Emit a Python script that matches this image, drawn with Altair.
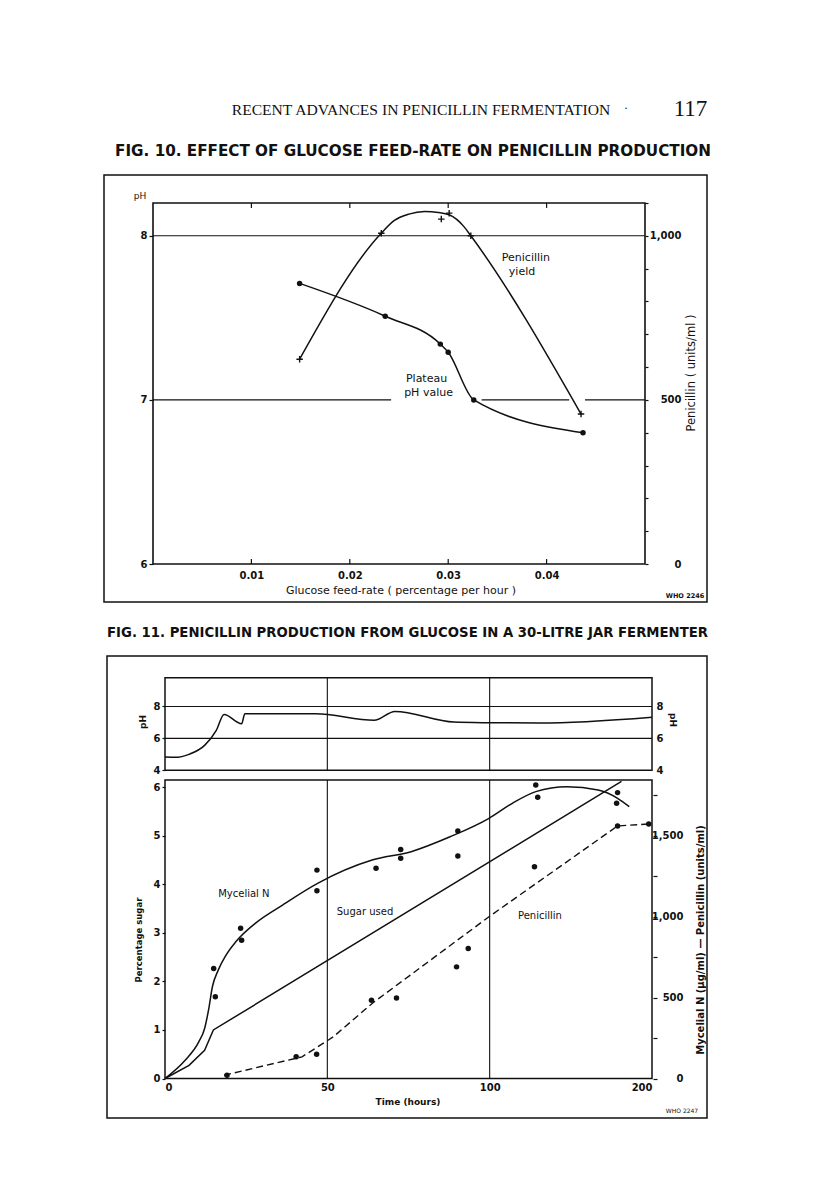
import altair as alt
import pandas as pd

OX, OY = 8, 8
W, H = 800, 1185
SANS = "DejaVu Sans"
SERIF = "Liberation Serif"
INK = "#111111"

# ---------------- Fig. 10 data ----------------
f10_ph_rate = [0.0149, 0.0236, 0.0292, 0.0300, 0.0326, 0.0437]
f10_ph = [7.71, 7.51, 7.34, 7.29, 7.00, 6.80]
f10_pen_rate = [0.0149, 0.0232, 0.0293, 0.0301, 0.0323, 0.0435]
f10_pen = [624, 1008, 1051, 1069, 1000, 457]
f10_curve_rate = [0.0149, 0.0232, 0.0245, 0.0260, 0.0276, 0.0290, 0.0301, 0.0316, 0.0323, 0.0435]
f10_curve_pen = [624, 1008, 1046, 1066, 1074, 1071, 1064, 1028, 1000, 457]
f10_x_ticks = [0.01, 0.02, 0.03, 0.04]
f10_ph_ticks = [6, 7, 8]
f10_pen_ticks = [0, 100, 200, 300, 400, 500, 600, 700, 800, 900, 1000, 1100]
f10_grid_level = [8, 7, 7, 7]
f10_grid_from = [0.0, 0.0, 0.0334, 0.0439]
f10_grid_to = [0.05, 0.0242, 0.0423, 0.05]
f10_label_text = ["Penicillin", "yield", "Plateau", "pH value"]
f10_label_rate = [0.0379, 0.0375, 0.0278, 0.0280]
f10_label_ph = [7.866, 7.78, 7.128, 7.045]

# ---------------- Fig. 11 data ----------------
f11_ph_t = [0, 3.2, 7.4, 12.2, 15.8, 18.2, 23.6, 24.6, 46.4, 64.4, 70.8, 89.0, 99.8, 115.4, 150]
f11_ph = [4.83, 4.81, 5.0, 5.56, 6.5, 7.5, 6.92, 7.54, 7.54, 7.13, 7.69, 7.02, 6.98, 6.96, 7.33]
f11_sugar_t = [0, 7.4, 12.2, 14.9, 140.6]
f11_sugar = [0, 0.27, 0.58, 1.0, 6.12]
f11_myc_curve_t = [0, 6.2, 10.4, 12.2, 13.4, 14.6, 16.4, 18.8, 21.8, 27.8, 36.2, 47.0, 63.8, 75.8, 87.8, 99.8, 107, 114.2, 123.8, 133.4, 139.4, 143]
f11_myc_curve = [0, 113, 226, 309, 422, 567, 670, 763, 845, 959, 1072, 1206, 1350, 1402, 1494, 1608, 1701, 1773, 1804, 1783, 1732, 1680]
f11_myc_pts_t = [15.0, 15.5, 23.3, 23.6, 46.8, 46.8, 65.0, 72.6, 72.6, 90.2, 90.2, 114.2, 114.8, 139.4, 139.1]
f11_myc_pts = [680, 505, 928, 855, 1288, 1160, 1299, 1416, 1362, 1530, 1375, 1814, 1738, 1767, 1701]
f11_pen_curve_t = [18.2, 42.2, 51.8, 63.8, 99.8, 139.4, 149]
f11_pen_curve = [20, 134, 257, 464, 1000, 1561, 1573]
f11_pen_pts_t = [19.1, 40.4, 46.7, 63.6, 71.3, 89.8, 93.4, 113.8, 139.4, 149]
f11_pen_pts = [20, 134, 150, 484, 497, 690, 804, 1309, 1561, 1573]
f11_t_ticks = [0, 50, 100, 150]
f11_t_labels = ["0", "50", "100", "200"]
f11_ph_ticks = [4, 6, 8]
f11_ph_grid = [6, 8]
f11_t_grid = [50, 100]
f11_sugar_ticks = [0, 1, 2, 3, 4, 5, 6]
f11_right_ticks = [0, 250, 500, 750, 1000, 1250, 1500, 1750]
f11_label_text = ["Mycelial N", "Sugar used", "Penicillin"]
f11_label_t = [24.3, 61.6, 115.5]
f11_label_sugar = [3.80, 3.44, 3.34]

one = pd.DataFrame({"k": [0]})


def S(domain, rng):
    return alt.Scale(domain=domain, range=rng, nice=False, zero=False)


# scales (ranges are in view pixels)
f10x = S([0, 0.05], [153 - OX, 645 - OX])
f10ph = S([6, 8.2], [564 - OY, 203 - OY])
f10pen = S([0, 1100], [564 - OY, 203 - OY])
f11t = S([0, 150], [165 - OX, 652 - OX])
f11ph = S([4, 9.8], [770.3 - OY, 677.7 - OY])
f11s = S([0, 6.15], [1078.5 - OY, 780 - OY])
f11p = S([0, 1845], [1078.5 - OY, 780 - OY])


def ax(orient, offset, values, size=10, tick=4, pad=2, **kw):
    opts = dict(orient=orient, offset=offset, values=values, title="", domain=False,
                grid=False, labelPadding=pad, labelFont=SANS, labelFontSize=size,
                labelFontWeight="bold", labelColor=INK, labelOverlap=False)
    if tick > 0:
        opts.update(ticks=True, tickSize=tick, tickColor=INK, tickWidth=1.2)
    else:
        opts.update(ticks=False, tickSize=0)
    opts.update(kw)
    return alt.Axis(**opts)


def ptext(txt, x, y, size, font=SANS, weight="normal", angle=0, align="center"):
    return alt.Chart(one).mark_text(
        text=txt, x=x - OX, y=y - OY, fontSize=size, font=font, fontWeight=weight,
        angle=angle, align=align, baseline="middle", color=INK)


def pbox(x1, y1, x2, y2, sw=1.5):
    return alt.Chart(one).mark_rect(fillOpacity=0, stroke=INK, strokeWidth=sw).encode(
        x=alt.value(x1 - OX), x2=alt.value(x2 - OX), y=alt.value(y1 - OY), y2=alt.value(y2 - OY))


layers = []

# ---------------- page texts ----------------
layers += [
    ptext("RECENT ADVANCES IN PENICILLIN FERMENTATION", 421, 110, 15.6, SERIF),
    ptext("·", 626, 108, 12, SERIF),
    ptext("117", 690.5, 109, 23, SERIF),
    ptext("FIG. 10.  EFFECT OF GLUCOSE FEED-RATE ON PENICILLIN PRODUCTION", 413, 151, 15.2, SANS, "bold"),
    ptext("FIG. 11.  PENICILLIN PRODUCTION FROM GLUCOSE IN A 30-LITRE JAR FERMENTER", 407.5, 633, 13.25, SANS, "bold"),
]

# ---------------- Fig. 10 ----------------
layers.append(pbox(104, 175, 707, 602))

grid10 = pd.DataFrame({"lvl": f10_grid_level, "a": f10_grid_from, "b": f10_grid_to})
layers.append(alt.Chart(grid10).mark_rule(color=INK, strokeWidth=1.1).encode(
    x=alt.X("a:Q", scale=f10x, axis=None), x2="b:Q",
    y=alt.Y("lvl:Q", scale=f10ph, axis=None)))

layers.append(alt.Chart(one).mark_rect(fillOpacity=0, stroke=INK, strokeWidth=1.6).encode(
    x=alt.X(datum=0, type="quantitative", scale=f10x,
            axis=ax("bottom", -(H - (564 - OY)), f10_x_ticks, size=10, tick=0, pad=6, format=".2f")),
    x2=alt.X2(datum=0.05),
    y=alt.Y(datum=6, type="quantitative", scale=f10ph,
            axis=ax("left", -(153 - OX), f10_ph_ticks, size=10, tick=4, pad=2, format="d")),
    y2=alt.Y2(datum=8.2)))

ticks10 = pd.DataFrame({"x": f10_x_ticks})
layers.append(alt.Chart(ticks10).mark_rule(color=INK, strokeWidth=1.2).encode(
    x=alt.X("x:Q", scale=f10x, axis=None),
    y=alt.Y(datum=6, type="quantitative", scale=f10ph, axis=None), y2=alt.Y2(datum=6.03)))
layers.append(alt.Chart(ticks10).mark_rule(color=INK, strokeWidth=1.2).encode(
    x=alt.X("x:Q", scale=f10x, axis=None),
    y=alt.Y(datum=8.2, type="quantitative", scale=f10ph, axis=None), y2=alt.Y2(datum=8.17)))

pen10c = pd.DataFrame({"r": f10_curve_rate, "p": f10_curve_pen})
layers.append(alt.Chart(pen10c).mark_line(color=INK, strokeWidth=1.5, interpolate="monotone").encode(
    x=alt.X("r:Q", scale=f10x, axis=None),
    y=alt.Y("p:Q", scale=f10pen,
            axis=ax("right", -(W - (645 - OX)), f10_pen_ticks, size=10, tick=3, pad=33,
                    labelAlign="right", format=",d",
                    labelExpr="datum.value % 500 == 0 ? datum.label : ''"))))

pen10 = pd.DataFrame({"r": f10_pen_rate, "p": f10_pen})
layers.append(alt.Chart(pen10).mark_point(shape="M-1,0L1,0M0,-1L0,1", size=42, filled=False,
                                          color=INK, strokeWidth=1.4, opacity=1).encode(
    x=alt.X("r:Q", scale=f10x, axis=None),
    y=alt.Y("p:Q", scale=f10pen, axis=None)))

ph10 = pd.DataFrame({"r": f10_ph_rate, "v": f10_ph})
layers.append(alt.Chart(ph10).mark_line(color=INK, strokeWidth=1.5, interpolate="monotone").encode(
    x=alt.X("r:Q", scale=f10x, axis=None),
    y=alt.Y("v:Q", scale=f10ph, axis=None)))
layers.append(alt.Chart(ph10).mark_circle(color=INK, size=30, opacity=1).encode(
    x=alt.X("r:Q", scale=f10x, axis=None),
    y=alt.Y("v:Q", scale=f10ph, axis=None)))

lab10 = pd.DataFrame({"r": f10_label_rate, "v": f10_label_ph, "t": f10_label_text})
layers.append(alt.Chart(lab10).mark_text(font=SANS, fontSize=11, color=INK).encode(
    x=alt.X("r:Q", scale=f10x, axis=None),
    y=alt.Y("v:Q", scale=f10ph, axis=None), text="t:N"))

layers += [
    ptext("pH", 140, 196, 9),
    ptext("Glucose feed-rate ( percentage per hour )", 401, 590.5, 11),
    ptext("Penicillin ( units/ml )", 692, 373, 11.5, angle=270),
    ptext("WHO 2246", 685, 596, 6.5, weight="bold"),
]

# ---------------- Fig. 11 ----------------
layers.append(pbox(107, 656, 707, 1118))

# top pH panel
layers.append(alt.Chart(one).mark_rect(fillOpacity=0, stroke=INK, strokeWidth=1.5).encode(
    x=alt.X(datum=0, type="quantitative", scale=f11t, axis=None),
    x2=alt.X2(datum=150),
    y=alt.Y(datum=4, type="quantitative", scale=f11ph,
            axis=ax("left", -(165 - OX), f11_ph_ticks, size=10, tick=3, pad=2, format="d")),
    y2=alt.Y2(datum=9.8)))

phgrid = pd.DataFrame({"v": f11_ph_grid})
layers.append(alt.Chart(phgrid).mark_rule(color=INK, strokeWidth=1.1).encode(
    x=alt.X(datum=0, type="quantitative", scale=f11t, axis=None), x2=alt.X2(datum=150),
    y=alt.Y("v:Q", scale=f11ph,
            axis=ax("right", -(W - (652 - OX)), f11_ph_ticks, size=10, tick=0, pad=4,
                    format="d"))))

tgrid = pd.DataFrame({"t": f11_t_grid})
layers.append(alt.Chart(tgrid).mark_rule(color=INK, strokeWidth=1.1).encode(
    x=alt.X("t:Q", scale=f11t, axis=None),
    y=alt.Y(datum=4, type="quantitative", scale=f11ph, axis=None), y2=alt.Y2(datum=9.8)))
layers.append(alt.Chart(tgrid).mark_rule(color=INK, strokeWidth=1.1).encode(
    x=alt.X("t:Q", scale=f11t, axis=None),
    y=alt.Y(datum=0, type="quantitative", scale=f11s, axis=None), y2=alt.Y2(datum=6.15)))

ph11 = pd.DataFrame({"t": f11_ph_t, "v": f11_ph})
layers.append(alt.Chart(ph11).mark_line(color=INK, strokeWidth=1.5, interpolate="monotone").encode(
    x=alt.X("t:Q", scale=f11t, axis=None),
    y=alt.Y("v:Q", scale=f11ph, axis=None)))

# bottom panel
label_expr = "datum.label"
for v, lab in zip(f11_t_ticks, f11_t_labels):
    label_expr = f"datum.value == {v} ? '{lab}' : ({label_expr})"
layers.append(alt.Chart(one).mark_rect(fillOpacity=0, stroke=INK, strokeWidth=1.5).encode(
    x=alt.X(datum=0, type="quantitative", scale=f11t,
            axis=ax("bottom", -(H - (1078.5 - OY)), f11_t_ticks, size=10, tick=0, pad=4,
                    labelExpr=label_expr)),
    x2=alt.X2(datum=150),
    y=alt.Y(datum=0, type="quantitative", scale=f11s,
            axis=ax("left", -(165 - OX), f11_sugar_ticks, size=10, tick=3, pad=2, format="d")),
    y2=alt.Y2(datum=6.15)))

sug = pd.DataFrame({"t": f11_sugar_t, "v": f11_sugar})
layers.append(alt.Chart(sug).mark_line(color=INK, strokeWidth=1.5).encode(
    x=alt.X("t:Q", scale=f11t, axis=None),
    y=alt.Y("v:Q", scale=f11s, axis=None)))

myc = pd.DataFrame({"t": f11_myc_curve_t, "v": f11_myc_curve})
layers.append(alt.Chart(myc).mark_line(color=INK, strokeWidth=1.5, interpolate="monotone").encode(
    x=alt.X("t:Q", scale=f11t, axis=None),
    y=alt.Y("v:Q", scale=f11p,
            axis=ax("right", -(W - (653 - OX)), f11_right_ticks, size=10, tick=4, pad=26,
                    labelAlign="right", format=",d",
                    labelExpr="datum.value % 500 == 0 ? datum.label : ''"))))

mycp = pd.DataFrame({"t": f11_myc_pts_t, "v": f11_myc_pts})
layers.append(alt.Chart(mycp).mark_circle(color=INK, size=30, opacity=1).encode(
    x=alt.X("t:Q", scale=f11t, axis=None),
    y=alt.Y("v:Q", scale=f11p, axis=None)))

penc = pd.DataFrame({"t": f11_pen_curve_t, "v": f11_pen_curve})
layers.append(alt.Chart(penc).mark_line(color=INK, strokeWidth=1.4, strokeDash=[7, 4]).encode(
    x=alt.X("t:Q", scale=f11t, axis=None),
    y=alt.Y("v:Q", scale=f11p, axis=None)))

penp = pd.DataFrame({"t": f11_pen_pts_t, "v": f11_pen_pts})
layers.append(alt.Chart(penp).mark_circle(color=INK, size=30, opacity=1).encode(
    x=alt.X("t:Q", scale=f11t, axis=None),
    y=alt.Y("v:Q", scale=f11p, axis=None)))

lab11 = pd.DataFrame({"t": f11_label_t, "v": f11_label_sugar, "s": f11_label_text})
layers.append(alt.Chart(lab11).mark_text(font=SANS, fontSize=10, color=INK).encode(
    x=alt.X("t:Q", scale=f11t, axis=None),
    y=alt.Y("v:Q", scale=f11s, axis=None), text="s:N"))

layers += [
    ptext("pH", 143, 722, 9, weight="bold", angle=270),
    ptext("pH", 673, 720, 9, weight="bold", angle=90),
    ptext("Percentage sugar", 139, 940, 8.5, weight="bold", angle=270),
    ptext("Mycelial N (µg/ml) — Penicillin (units/ml)", 701, 940, 10, weight="bold", angle=270),
    ptext("Time (hours)", 408, 1101.5, 9, weight="bold"),
    ptext("WHO 2247", 682, 1111, 6),
]

chart = alt.layer(*layers).resolve_scale(x="independent", y="independent").resolve_axis(
    x="independent", y="independent").properties(
    width=W, height=H, padding=0, autosize=alt.AutoSizeParams(type="none"),
    background="white").configure_view(strokeWidth=0)

chart.save("out.html", embed_options={"renderer": "svg", "actions": False})
